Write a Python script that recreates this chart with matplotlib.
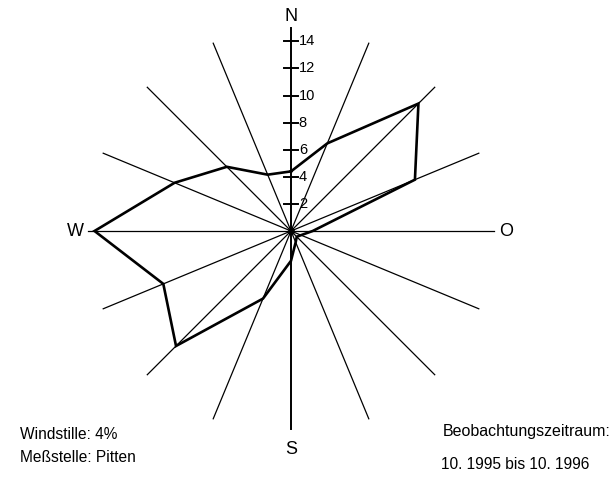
import matplotlib.pyplot as plt
import numpy as np

plt.rcParams['font.family'] = ['Liberation Sans', 'DejaVu Sans']

# 16 wind directions, clockwise from north
directions = ['N', 'NNO', 'NO', 'ONO', 'O', 'OSO', 'SO', 'SSO',
              'S', 'SSW', 'SW', 'WSW', 'W', 'WNW', 'NW', 'NNW']
frequency = [4.4, 7.0, 13.3, 9.9, 1.6, 0.8, 0.6, 0.9,
             2.2, 5.4, 12.0, 10.2, 14.5, 9.3, 6.7, 4.5]
tick_values = [2, 4, 6, 8, 10, 12, 14]
spoke_len = 15

px = 13.55  # pixels per unit
W, H = 613, 487
cx, cy = 291, 231

fig = plt.figure(figsize=(W / 100, H / 100), dpi=100)
ax = fig.add_axes([0, 0, 1, 1])
ax.set_xlim(-cx / px, (W - cx) / px)
ax.set_ylim(-(H - cy) / px, cy / px)
ax.axis('off')

angles = np.deg2rad(np.arange(16) * 22.5)

# spokes
for a in angles[1:8]:
    dx, dy = spoke_len * np.sin(a), spoke_len * np.cos(a)
    ax.plot([-dx, dx], [-dy, dy], color='black', lw=0.9)
ax.plot([0, 0], [-14.6, spoke_len], color='black', lw=1.4)

# scale ticks on the north axis
for v in tick_values:
    ax.plot([-0.52, 0.52], [v, v], color='black', lw=1.4)
    ax.text(0.58, v, str(v), fontsize=10.5, ha='left', va='center')

# frequency polygon
vals = np.array(frequency + frequency[:1])
ang = np.append(angles, angles[0])
ax.plot(vals * np.sin(ang), vals * np.cos(ang), color='black', lw=1.9,
        solid_joinstyle='miter')

ax.plot(0, 0, 'o', color='black', ms=4)

# cardinal labels
ax.text(0, 15.85, 'N', fontsize=13, ha='center', va='center')
ax.text(-15.9, 0, 'W', fontsize=13, ha='center', va='center')
ax.text(15.85, 0, 'O', fontsize=13, ha='center', va='center')
ax.text(0, -16.1, 'S', fontsize=13, ha='center', va='center')

# info texts
ax.text(-20.0, -15.0, 'Windstille: 4%', fontsize=11.2, ha='left', va='center')
ax.text(-20.0, -16.7, 'Meßstelle: Pitten', fontsize=11.2, ha='left', va='center')
ax.text(11.2, -14.83, 'Beobachtungszeitraum:', fontsize=11.5, ha='left', va='center')
ax.text(11.1, -17.2, '10. 1995 bis 10. 1996', fontsize=11.2, ha='left', va='center')

fig.savefig('out.png', dpi=100)
